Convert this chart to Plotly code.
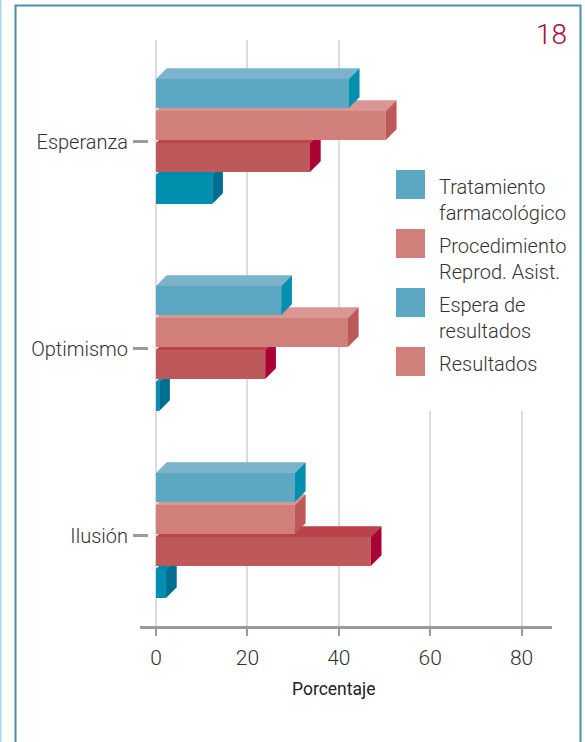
import plotly.graph_objects as go

# datos
categorias = ['Esperanza', 'Optimismo', 'Ilusión']
espera_2 = [12.3, 0.7, 2.2]
resultados_2 = [33.7, 23.9, 47.0]
procedimiento = [50.3, 42.0, 30.4]
tratamiento = [42.2, 27.4, 30.4]
x_ticks = [0, 20, 40, 60, 80]
legend_lines = [['Tratamiento', 'farmacológico'], ['Procedimiento', 'Reprod. Asist.'],
                ['Espera de', 'resultados'], ['Resultados']]

W, H = 585, 742
L, R, T, B = 140, 552, 40, 626
FONT = 'Roboto'
TEXT = dict(family=FONT, size=20, color='#333333', weight=300)

# el eje y va en pixeles de la figura para poder separar los grupos como en el original
group_y = [141.5, 348.5, 535.5]
bar_h = 29
x_range = [-3.5, 86.65]
depth_x = 2.34
depth_y = 10.7


def px(x):
    return (x - L) / (R - L)


def py(y):
    return (B - y) / (B - T)


# de abajo hacia arriba: cada serie se dibuja encima de la anterior
series = [
    (espera_2, 48, '#008fad', '#0089a8', '#006e90'),
    (resultados_2, 16, '#bd585b', '#b8434b', '#aa0033'),
    (procedimiento, -16, '#d17f7b', '#d99793', '#bd595b'),
    (tratamiento, -48, '#5ca7c2', '#7ab3cb', '#0090ad'),
]

fig = go.Figure()

for i, (vals, off, front, top, side) in enumerate(series):
    n = '' if i == 0 else str(i + 1)
    ys = [g + off for g in group_y]
    fig.add_trace(go.Bar(x=vals, y=ys, orientation='h', width=bar_h, marker=dict(color=front, line_width=0),
                         xaxis='x' + n, yaxis='y' + n, showlegend=False))
    tx, ty, sx, sy = [], [], [], []
    for v, y in zip(vals, ys):
        up, down = y - bar_h / 2, y + bar_h / 2
        tx += [0, depth_x, v + depth_x, v, 0, None]
        ty += [up, up - depth_y, up - depth_y, up, up, None]
        sx += [v, v + depth_x, v + depth_x, v, v, None]
        sy += [up, up - depth_y, down - depth_y, down, up, None]
    for xs, yy, col in [(tx, ty, top), (sx, sy, side)]:
        fig.add_trace(go.Scatter(x=xs, y=yy, mode='lines', fill='toself', fillcolor=col, line_width=0,
                                 xaxis='x' + n, yaxis='y' + n, showlegend=False, hoverinfo='skip'))
    if i > 0:
        fig.update_layout({
            'xaxis' + n: dict(range=x_range, overlaying='x', anchor='y' + n, visible=False),
            'yaxis' + n: dict(range=[B, T], overlaying='y', anchor='x' + n, visible=False),
        })

fig.update_layout(
    width=W,
    height=H,
    margin=dict(l=L, r=W - R, t=T, b=H - B, pad=0),
    paper_bgcolor='white',
    plot_bgcolor='white',
    barmode='overlay',
    showlegend=False,
    xaxis=dict(
        range=x_range,
        tickvals=x_ticks,
        showgrid=True,
        gridcolor='#dcdcdc',
        gridwidth=1.5,
        zeroline=False,
        showline=True,
        linecolor='#9b9b9b',
        linewidth=3,
        ticks='outside',
        ticklen=7,
        tickwidth=2,
        tickcolor='#9b9b9b',
        ticklabelstandoff=4,
        tickfont=dict(family=FONT, size=21, color='#333333', weight=300),
    ),
    yaxis=dict(
        range=[B, T],
        tickvals=group_y,
        ticktext=categorias,
        showgrid=False,
        zeroline=False,
        showline=False,
        anchor='free',
        position=px(148),
        ticks='outside',
        ticklen=15,
        tickwidth=3,
        tickcolor='#9b9b9b',
        ticklabelstandoff=1,
        tickfont=TEXT,
    ),
)

# fondo blanco de la leyenda, marco y tira izquierda
shapes = [
    dict(type='rect', xref='x', yref='y', x0=58, x1=x_range[1], y0=T - 2, y1=411, fillcolor='white',
         line_width=0, layer='above'),
    dict(type='rect', xref='paper', yref='paper', x0=px(15.5), x1=px(580.5), y0=py(5.5), y1=py(760),
         line=dict(color='#4a90ab', width=2), layer='above'),
    dict(type='rect', xref='paper', yref='paper', x0=px(0), x1=px(1.5), y0=py(0), y1=py(742),
         fillcolor='#a9d5e4', line_width=0),
]

annotations = [
    dict(text='18', xref='paper', yref='paper', x=px(568.5), y=py(34), xanchor='right', yanchor='middle',
         showarrow=False, font=dict(family=FONT, size=28, color='#a80c3f', weight=300)),
    dict(text='Porcentaje', xref='x', yref='paper', x=39, y=py(689), xanchor='center', yanchor='middle',
         showarrow=False, font=dict(family=FONT, size=17.5, color='#222222')),
]

swatch_cols = ['#5ca7c2', '#d17f7b', '#5ca7c2', '#d17f7b']
swatch_top = [170, 229, 288, 347]
for col, top_y, lines in zip(swatch_cols, swatch_top, legend_lines):
    shapes.append(dict(type='rect', xref='paper', yref='paper', x0=px(396), x1=px(425), y0=py(top_y),
                       y1=py(top_y + 29), fillcolor=col, line_width=0))
    for j, line in enumerate(lines):
        annotations.append(dict(text=line, xref='paper', yref='paper', x=px(437), y=py(top_y + 17 + 26 * j),
                                xanchor='left', yanchor='middle', showarrow=False, font=TEXT))

fig.update_layout(shapes=shapes, annotations=annotations)

fig.write_html('out.html', config=dict(displayModeBar=False),
               post_script="document.body.style.margin='0';document.body.style.overflow='hidden';")
